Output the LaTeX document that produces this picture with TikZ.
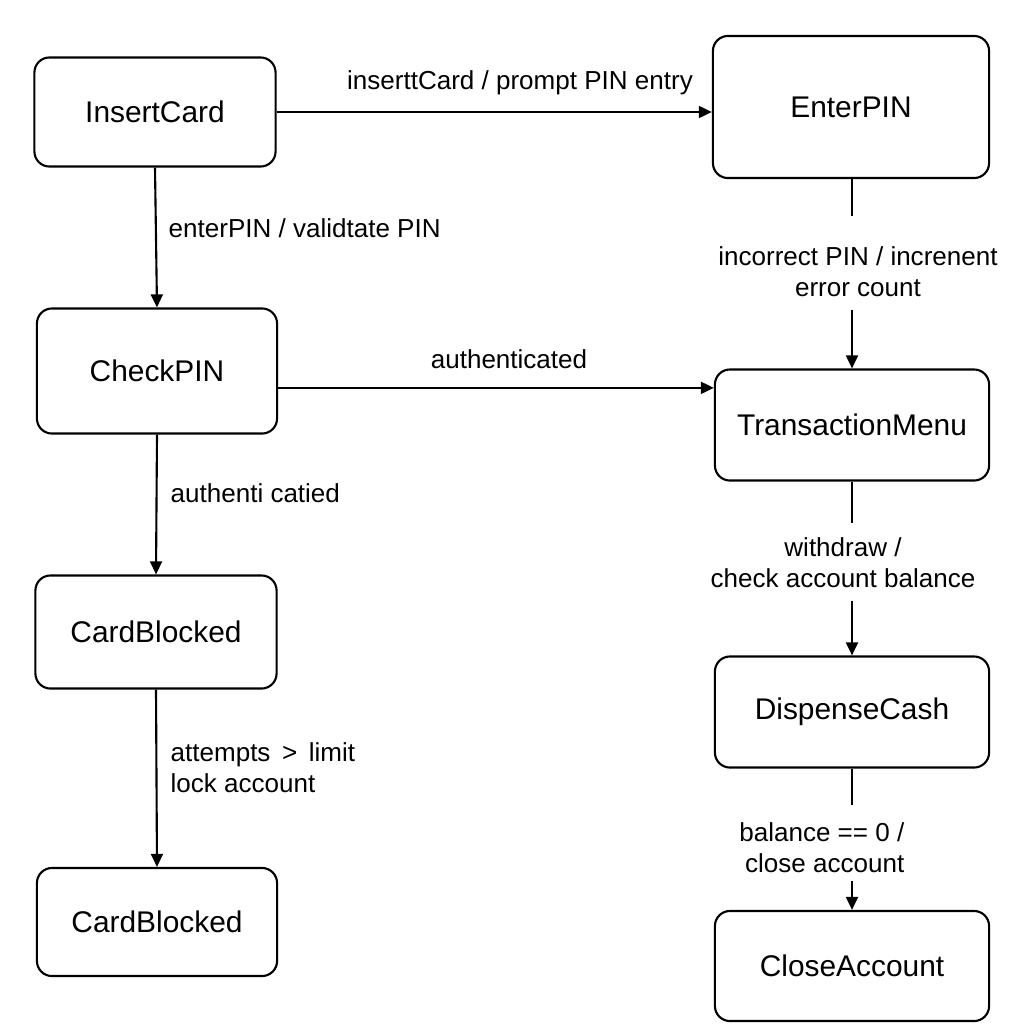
\documentclass[tikz,border=0pt]{standalone}
\usepackage{fontspec}
\setmainfont{Liberation Sans}
\usetikzlibrary{arrows.meta,positioning}

\begin{document}
\begin{tikzpicture}[x=0.01cm,y=-0.01cm,
  state/.style={draw,rounded corners=0.15cm,line width=0.6pt,font=\fontsize{8.5}{10}\selectfont},
  trans/.style={line width=0.6pt},
  arr/.style={trans,-{Triangle[length=3.7pt,width=3.4pt]}},
  lbl/.style={font=\fontsize{7.4}{8.8}\selectfont,inner sep=0pt}]

\useasboundingbox (0,0) rectangle (1024,1024);

% states
\foreach \name/\x/\y/\w/\h/\txt in {insert/155/112/2.41/1.09/InsertCard,
    enter/851/107/2.76/1.42/EnterPIN,
    check/157/371/2.40/1.25/CheckPIN,
    tmenu/852/425/2.74/1.11/TransactionMenu,
    blockA/156/632/2.41/1.13/CardBlocked,
    dispense/852/712/2.74/1.11/DispenseCash,
    blockB/157/922/2.40/1.08/CardBlocked,
    close/852/966/2.74/1.10/CloseAccount}
  \node [state,minimum width=\w cm,minimum height=\h cm] (\name) at (\x,\y) {\txt};

% labels
\node [lbl] (l1) at (520,83) {inserttCard / prompt PIN entry};
\node [lbl,anchor=west] (l2) at (168,228) {enterPIN / validtate PIN};
\node [lbl] (l3) at (858,272) [align=center] {incorrect PIN / increnent\\error count};
\node [lbl] (l4) at (509,359) {authenticated};
\node [lbl,anchor=west] (l5) at (170,493) {authenti catied};
\node [lbl] (l6) at (843,563) [align=center] {withdraw /\\check account balance};
\node [lbl,anchor=west,align=left] (l7) at (170,768) {attempts \,>\, limit\\lock account};
\node [lbl,anchor=east,align=right] (l8) at (905,848) {balance == 0 /\\close account};

% transitions
\draw[arr] (insert.east) -- (insert.east -| enter.west);
\draw[arr] (insert.south) -- (check.north);
\draw[arr] ([yshift=-4.8pt]check.east) -- ([yshift=-4.8pt]check.east -| tmenu.west);
\draw[arr] (check.south) -- (blockA.north);
\draw[arr] (blockA.south) -- (blockB.north);

\draw[trans,shorten >=8.5pt] (tmenu.north |- enter.south) -- (tmenu.north |- l3.north);
\draw[arr,shorten <=3.4pt] (tmenu.north |- l3.south) -- (tmenu.north);
\draw[trans,shorten >=4pt] (tmenu.south) -- (tmenu.south |- l6.north);
\draw[arr,shorten <=3.4pt] (tmenu.south |- l6.south) -- (dispense.north);
\draw[trans,shorten >=4.8pt] (dispense.south) -- (dispense.south |- l8.north);
\draw[arr,shorten <=2pt] (dispense.south |- l8.south) -- (close.north);

\end{tikzpicture}
\end{document}
